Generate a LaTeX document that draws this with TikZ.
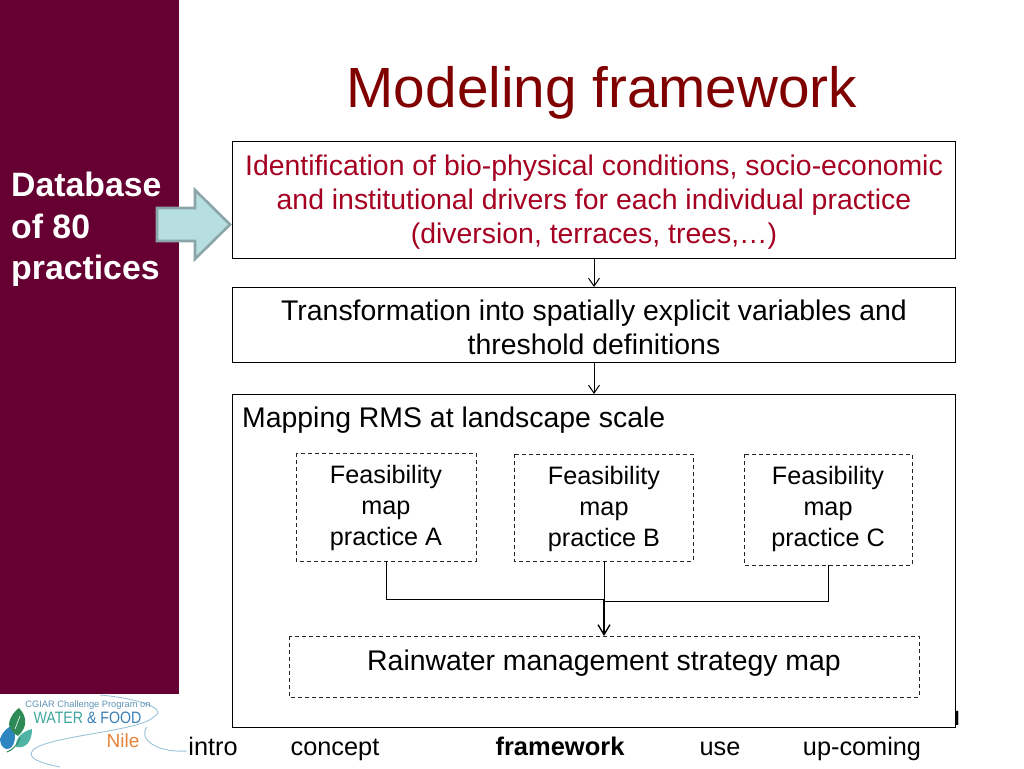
\documentclass[tikz,border=0pt]{standalone}
\usepackage{fontspec}
\setmainfont{Liberation Sans}
\usetikzlibrary{arrows.meta}
\definecolor{maroonbar}{HTML}{660033}
\definecolor{titlered}{HTML}{800000}
\definecolor{idred}{HTML}{A50021}
\definecolor{arrowfill}{HTML}{B7DEE0}
\definecolor{arrowedge}{HTML}{8BA5A8}
\definecolor{logoblue}{HTML}{2E86C1}
\definecolor{logogreen}{HTML}{2E8B57}
\definecolor{logoteal}{HTML}{4FB3A5}
\definecolor{logotext}{HTML}{3A7FB5}
\definecolor{logowater}{HTML}{3FA79E}
\definecolor{logosmall}{HTML}{5F93B5}
\definecolor{logoorange}{HTML}{E8833A}
\definecolor{logoswoosh}{HTML}{9CC3DA}
\tikzset{
  x=1pt,y=-1pt,
  solidbox/.style={draw=black,line width=0.8pt,fill=white,inner sep=0pt},
  dashbox/.style={draw=black!85,line width=0.8pt,dash pattern=on 4pt off 3pt,fill=white,inner sep=0pt},
  body/.style={font=\fontsize{28.4}{34}\selectfont,align=center,inner sep=0pt},
  small/.style={font=\fontsize{25.2}{31}\selectfont,align=center,inner sep=0pt},
  nav/.style={font=\fontsize{25.3}{30}\selectfont,inner sep=0pt,anchor=base},
  link/.style={draw=black,line width=1pt},
  flow/.style={draw=black,line width=1pt,-{Straight Barb[length=8pt,width=11pt,line width=1pt]}},
  flowmain/.style={draw=black,line width=1.6pt,-{Straight Barb[length=10pt,width=12pt,line width=1.4pt]}},
}
\begin{document}
\begin{tikzpicture}
\useasboundingbox (0,0) rectangle (1024,768);
\fill[white] (0,0) rectangle (1024,768);
\fill[maroonbar] (0,0) rectangle (179,694);
% title
\node[font=\fontsize{56.7}{60}\selectfont,text=titlered,inner sep=0pt] (title) at (602,93) {Modeling framework};
% side label
\node[font=\fontsize{33.8}{41.5}\selectfont\bfseries,text=white,align=left,anchor=north west,inner sep=0pt] (db) at (11,172) {Database\\of 80\\practices};
% slide number partly hidden
\begin{scope}
\clip (955,700) rectangle (960,724);
\node[font=\fontsize{25}{30}\selectfont,inner sep=0pt,anchor=base east] (num) at (964,728) {1};
\end{scope}
% boxes
\path[solidbox] (232,141) rectangle (955,258);
\node[body,text=idred] (id) at (594,202) {Identification of bio-physical conditions, socio-economic\\and institutional drivers for each individual practice\\(diversion, terraces, trees,…)};
\coordinate (idS) at (594,258);
\path[solidbox] (232,287) rectangle (955,362);
\node[body] (tr) at (594,327) {Transformation into spatially explicit variables and\\threshold definitions};
\coordinate (trN) at (594,287);
\coordinate (trS) at (594,362);
\path[solidbox] (232,394) rectangle (955,727);
\coordinate (mapN) at (594,394);
\node[font=\fontsize{28.4}{32}\selectfont,inner sep=0pt,anchor=base west] (mp) at (242,427) {Mapping RMS at landscape scale};
% feasibility boxes
\path[dashbox] (296,453) rectangle (476,561);
\path[dashbox] (514,454) rectangle (693,561);
\path[dashbox] (744,454) rectangle (912,565);
\node[small] (fa) at (386,508) {Feasibility\\map\\practice A};
\node[small] (fb) at (604,508.5) {Feasibility\\map\\practice B};
\node[small] (fc) at (828,508.5) {Feasibility\\map\\practice C};
\coordinate (faS) at (386,561);
\coordinate (fbS) at (604,561);
\coordinate (fcS) at (828,565);
\coordinate (ja) at (386,599);
\coordinate (jb) at (604,599);
\coordinate (jc) at (828,601);
\coordinate (jd) at (604,601);
\path[dashbox] (289,636) rectangle (919,697);
\node[font=\fontsize{28.4}{32}\selectfont,inner sep=0pt] (rw) at (604,663) {Rainwater management strategy map};
\coordinate (rwN) at (604,636);
% connectors
\draw[flow] (idS) -- (trN);
\draw[flow] (trS) -- (mapN);
\draw[link] (faS) -- (ja) -- (jb);
\draw[link] (fcS) -- (jc) -- (jd);
\draw[link] (fbS) -- (jb);
\draw[flowmain] (jb) -- (rwN);
% block arrow
\draw[draw=arrowedge,fill=arrowfill,line width=2.6pt,line join=miter]
  (157,208) -- (195,208) -- (195,190) -- (230,224.5) -- (195,259) -- (195,241) -- (157,241) -- cycle;
% nav
\node[nav] (n1) at (213,755) {intro};
\node[nav] (n2) at (335,755) {concept};
\node[nav,font=\fontsize{25.5}{30}\selectfont\bfseries] (n3) at (560,755) {framework};
\node[nav] (n4) at (720,755) {use};
\node[nav] (n5) at (862,755) {up-coming};
% logo
\draw[logoswoosh,line width=0.9pt] (100,695) .. controls (135,698) and (168,708) .. (155,716) .. controls (140,732) and (50,735) .. (33,750) .. controls (26,758) and (40,763) .. (60,767);
\draw[logoswoosh,line width=0.9pt] (147,727) .. controls (138,738) and (155,753) .. (187,751);
\fill[logoblue] (0,739) .. controls (2,732) and (8,727) .. (13,725) .. controls (17,735) and (15,749) .. (7,749) .. controls (3,749) and (0,744) .. (0,739) -- cycle;
\fill[logogreen] (9,724) .. controls (10,716) and (15,711) .. (19,708) .. controls (27,716) and (28,727) .. (18,736) .. controls (13,733) and (9,729) .. (9,724) -- cycle;
\fill[logoteal] (16,747) .. controls (15,738) and (23,731) .. (32,729) .. controls (32,740) and (27,749) .. (16,747) -- cycle;
\draw[logogreen,line width=1pt] (7,752) .. controls (12,750) and (17,746) .. (20,738);
\draw[white,line width=0.6pt] (15,729) -- (20,716);
\node[font=\fontsize{9.3}{10}\selectfont,text=logosmall,inner sep=0pt] (lg1) at (88,705) {CGIAR Challenge Program on};
\node[font=\fontsize{16.5}{18}\selectfont,text=logotext,inner sep=0pt,xscale=0.86] (lg2) at (87.5,718) {\textcolor{logowater}{WATER} \& FOOD};
\node[font=\fontsize{19}{20}\selectfont,text=logoorange,inner sep=0pt] (lg3) at (123,741) {Nile};
\end{tikzpicture}
\end{document}
